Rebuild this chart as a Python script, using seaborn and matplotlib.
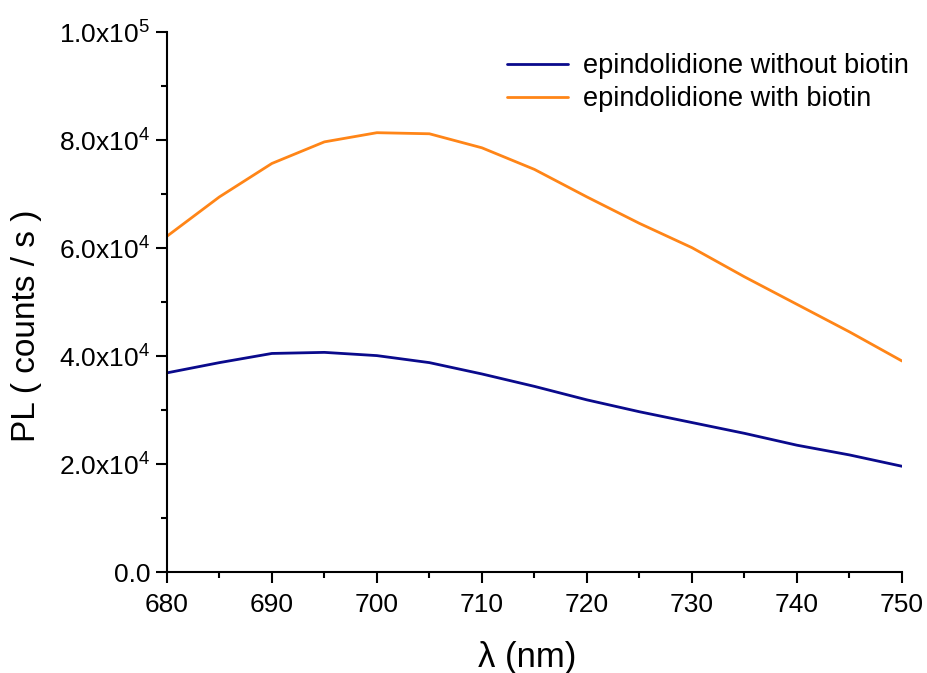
import numpy as np
import pandas as pd
import matplotlib
matplotlib.use("Agg")
import matplotlib.pyplot as plt
from matplotlib.ticker import FuncFormatter, MultipleLocator
import seaborn as sns

wavelength = [680, 685, 690, 695, 700, 705, 710, 715, 720, 725, 730, 735, 740, 745, 750]
without_biotin = [36900, 38800, 40500, 40700, 40100, 38800, 36700, 34400, 31900, 29700, 27700, 25700, 23500, 21700, 19600]
with_biotin = [62200, 69500, 75700, 79700, 81400, 81200, 78600, 74600, 69500, 64600, 60100, 54700, 49600, 44500, 39100]
series_names = ["epindolidione without biotin", "epindolidione with biotin"]
colors = ["#0A0A8C", "#FF8517"]

df = pd.DataFrame({
    "wl": wavelength * 2,
    "pl": without_biotin + with_biotin,
    "series": [series_names[0]] * len(wavelength) + [series_names[1]] * len(wavelength),
})

sns.set_theme(style="ticks")
plt.rcParams['font.family'] = ['Liberation Sans', 'DejaVu Sans']
plt.rcParams['mathtext.fontset'] = 'custom'
plt.rcParams['mathtext.rm'] = 'Liberation Sans'
plt.rcParams['text.color'] = 'black'
plt.rcParams['axes.labelcolor'] = 'black'

fig = plt.figure(figsize=(9.27, 6.73), dpi=100)
ax = fig.add_axes([0.180, 0.150, 0.793, 0.802])

sns.lineplot(data=df, x="wl", y="pl", hue="series", palette=colors, linewidth=2.0, ax=ax)

ax.set_xlim(680, 750)
ax.set_ylim(0, 100000)
ax.xaxis.set_major_locator(MultipleLocator(10))
ax.xaxis.set_minor_locator(MultipleLocator(5))
ax.yaxis.set_major_locator(MultipleLocator(20000))
ax.yaxis.set_minor_locator(MultipleLocator(10000))

def yfmt(v, pos):
    if abs(v) < 1e-9:
        return "0.0"
    if v < 0:
        return ""
    e = int(np.floor(np.log10(v)))
    m = v / 10 ** e
    return r"$\mathregular{%.1fx10^{%d}}$" % (m, e)

ax.yaxis.set_major_formatter(FuncFormatter(yfmt))

for s in ["top", "right"]:
    ax.spines[s].set_visible(False)
for s in ["left", "bottom"]:
    ax.spines[s].set_linewidth(1.5)
    ax.spines[s].set_color("black")

ax.tick_params(axis="both", which="major", direction="out", length=8, width=1.5, labelsize=19, colors="black")
ax.tick_params(axis="both", which="minor", direction="out", length=4.5, width=1.5, colors="black")
ax.tick_params(axis="x", pad=7)
ax.tick_params(axis="y", pad=4)

ax.set_xlabel("λ (nm)", fontsize=25, color="black")
ax.xaxis.set_label_coords(0.49, -0.128)
ax.set_ylabel("PL ( counts / s )", fontsize=24, color="black")
ax.yaxis.set_label_coords(-0.17, 0.457)

leg = ax.legend(title=None, frameon=False, fontsize=19.5, loc="upper left",
                bbox_to_anchor=(507 / 927, 1 - 53 / 673), bbox_transform=fig.transFigure,
                borderaxespad=0, borderpad=0,
                handlelength=2.25, handletextpad=0.55, labelspacing=0.27)
for t in leg.get_texts():
    t.set_color("black")

fig.savefig("out.png", dpi=100)
